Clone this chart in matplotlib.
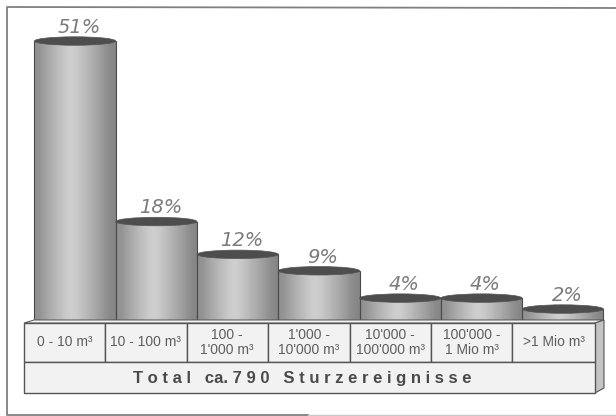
import matplotlib
matplotlib.use("Agg")
import matplotlib.pyplot as plt
from matplotlib.patches import Ellipse, Polygon, Rectangle
import numpy as np

werte = [51, 18, 12, 9, 4, 4, 2]
prozent = ["51%", "18%", "12%", "9%", "4%", "4%", "2%"]
klassen = ["0 - 10 m³", "10 - 100 m³", "100 -\n1'000 m³", "1'000 -\n10'000 m³",
           "10'000 -\n100'000 m³", "100'000 -\n1 Mio m³", ">1 Mio m³"]
total = "T o t a l   ca. 7 9 0   S t u r z e r e i g n i s s e"

plt.rcParams['font.family'] = ['Liberation Sans', 'DejaVu Sans']

fig = plt.figure(figsize=(6.16, 4.16), dpi=100)

# Hintergrund in Pixelkoordinaten (Rahmen, rechts offen)
bg = fig.add_axes([0, 0, 1, 1])
bg.set_xlim(0, 616)
bg.set_ylim(416, 0)
bg.axis('off')
bg.plot([616, 7, 7, 308], [8, 7, 415, 415], color='#808080', lw=1.3)
bg.plot([308, 616], [415, 415], color='#c8c8c8', lw=1.0)

# Saeulen auf eigener Achse, x = Klasse, y = Prozent
ax = fig.add_axes([0, 0, 1, 1])
ax.patch.set_alpha(0)
ax.axis('off')

x = np.arange(len(werte))
breite = 1.0
verlauf = np.array([[0.56, 0.62, 0.68, 0.73, 0.78, 0.82, 0.78, 0.73, 0.68, 0.63, 0.57, 0.52]])
balken = ax.bar(x, werte, width=breite, color='none', edgecolor='#4a4a4a', linewidth=0.8, zorder=3)
for b in balken:
    x0, h = b.get_x(), b.get_height()
    im = ax.imshow(verlauf, cmap='gray', vmin=0, vmax=1, aspect='auto', interpolation='bicubic',
                   extent=(x0, x0 + breite, 0, h), zorder=2)
    im.set_clip_path(b)
ax.set_xlim((0 - 75) / 81.3, (616 - 75) / 81.3)
ax.set_ylim((320 - 416) / 5.47, 320 / 5.47)

hoehe_ell = 8.5 / 5.47
for i, w in enumerate(werte):
    ax.add_patch(Ellipse((x[i], w), breite, hoehe_ell, fc='#4d4d4d', ec='#555555', lw=0.5, zorder=4 + i))
    ax.text(x[i] + 0.05, w + 0.75, prozent[i], ha='center', va='bottom', style='italic', fontsize=14,
            family=['DejaVu Sans'], color='#7c7c7c', zorder=20)

# Sockel mit Klassen
vg = fig.add_axes([0, 0, 1, 1])
vg.patch.set_alpha(0)
vg.set_xlim(0, 616)
vg.set_ylim(416, 0)
vg.axis('off')
kanten = [24, 105, 186.5, 268, 349.5, 431, 512, 595]
rand = '#555555'
vg.add_patch(Polygon([(24, 323), (34, 320), (604, 320), (595, 323)], fc='#f4f4f4', ec=rand, lw=0.7))
vg.add_patch(Polygon([(595, 323), (604, 320), (604, 388), (595, 393)], fc='#c4c4c4', ec=rand, lw=0.8))
for i, text in enumerate(klassen):
    vg.add_patch(Rectangle((kanten[i], 323), kanten[i + 1] - kanten[i], 39, fc='#f2f2f2', ec=rand, lw=1.0))
    vg.text((kanten[i] + kanten[i + 1]) / 2, 342.5, text, ha='center', va='center', fontsize=10,
            color='#5f5f5f', linespacing=1.05)
vg.add_patch(Rectangle((24, 362), 571, 31, fc='#f2f2f2', ec=rand, lw=1.0))
vg.text(302, 378, total, ha='center', va='center', fontsize=12, weight='bold', color='#4a4a4a')

fig.savefig("out.png", dpi=100)
